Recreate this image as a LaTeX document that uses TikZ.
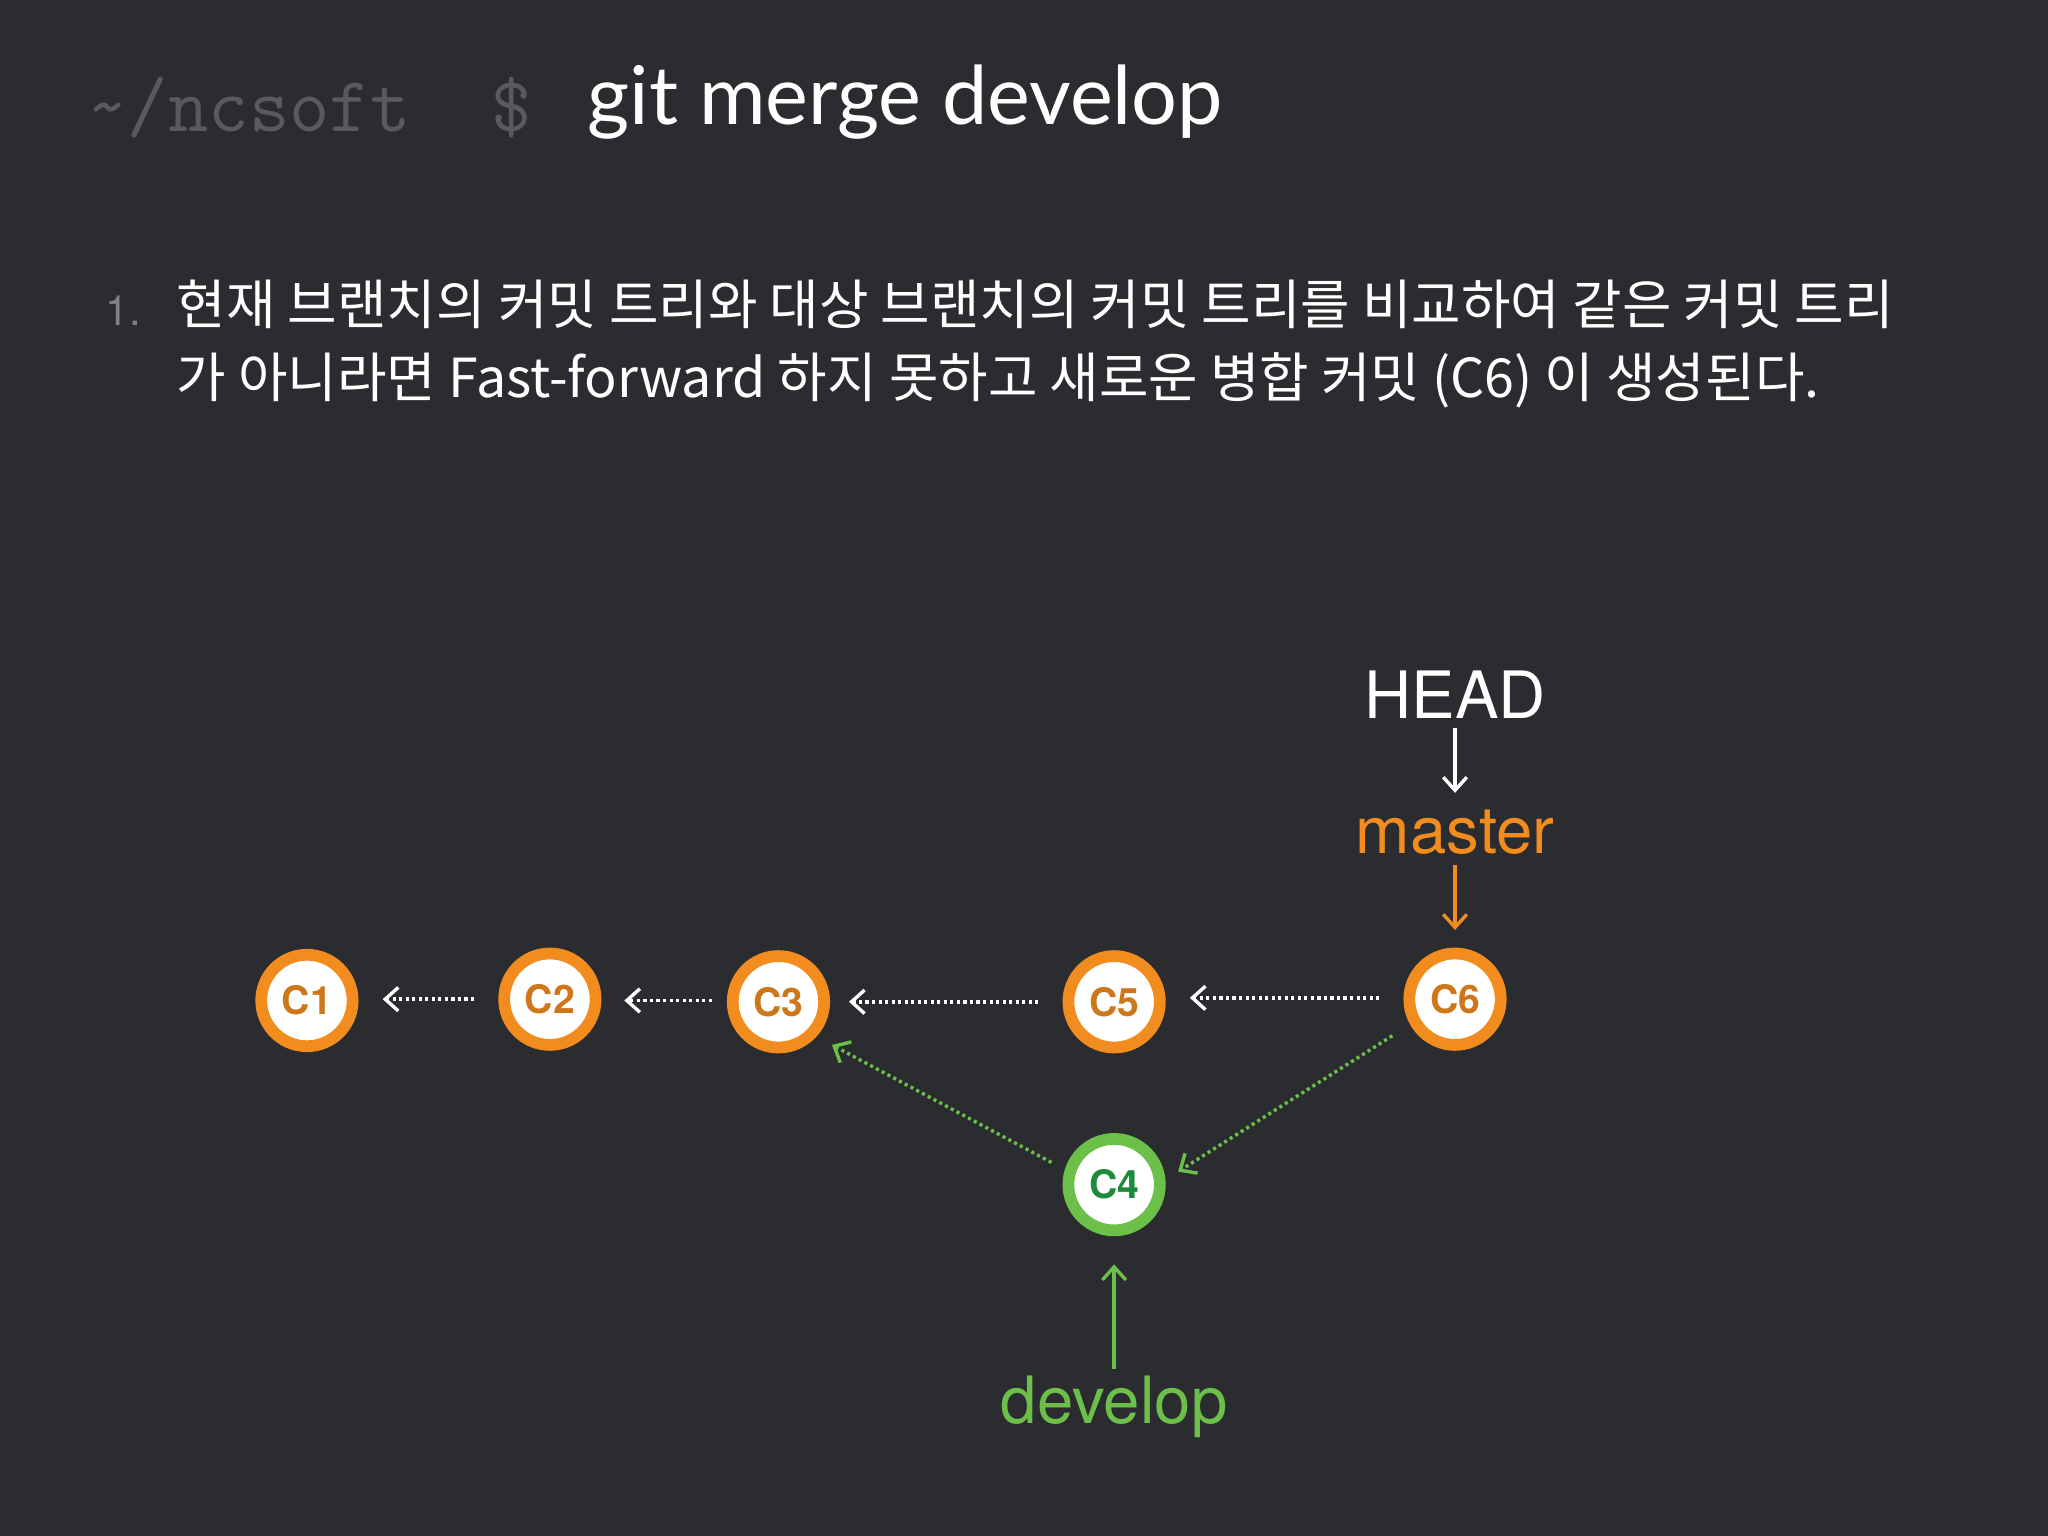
\documentclass[tikz,border=0pt]{standalone}
\usepackage{fontspec}
\setmainfont{Noto Sans CJK KR}
\newfontfamily\latinsans{TeX Gyre Heros}
\newfontfamily\titlesans{Lato}
\usetikzlibrary{arrows.meta}
\definecolor{bg}{HTML}{2A2C30}
\definecolor{orng}{HTML}{F28C1F}
\definecolor{grn}{HTML}{6CC04A}
\definecolor{dgrn}{HTML}{1F8A3A}
\begin{document}
\begin{tikzpicture}[x=0.5pt,y=-0.5pt,
  commit/.style={circle,draw=orng,line width=4.5pt,fill=white,minimum size=35pt,inner sep=0pt,text=orng!85!black,font=\latinsans\bfseries\fontsize{15}{15}\selectfont},
  gcommit/.style={commit,draw=grn,text=dgrn},
  dotarrow/.style={white,dash pattern=on 1.2pt off 1.3pt,line width=1.3pt,-{Straight Barb[length=5pt,width=9pt]}},
  lbl/.style={font=\latinsans\fontsize{25}{25}\selectfont}]
\fill[bg] (0,0) rectangle (1568,1176);
\useasboundingbox (0,0) rectangle (1568,1176);
\node[anchor=west,text=gray!55!bg,font=\ttfamily\fontsize{30}{30}\selectfont] (prompt) at (60,82) {\~{}/ncsoft\ \ \$};
\node[anchor=west,text=white,font=\titlesans\fontsize{31}{31}\selectfont] (cmd) at (443,78) {git merge develop};
\node[anchor=west,text=gray,font=\latinsans\fontsize{16}{16}\selectfont] (num) at (74,238) {1.};
\node[anchor=north west,text=white,font=\fontsize{20.6}{28}\selectfont,align=left,inner sep=0pt] (body) at (135,214)
{현재 브랜치의 커밋 트리와 대상 브랜치의 커밋 트리를 비교하여 같은 커밋 트리\\가 아니라면 Fast-forward 하지 못하고 새로운 병합 커밋 (C6) 이 생성된다.};
\node[commit] (c1) at (235,766) {C1};
\node[commit] (c2) at (421,765) {C2};
\node[commit] (c3) at (596,767) {C3};
\node[commit] (c5) at (853,767) {C5};
\node[commit] (c6) at (1114,765) {C6};
\node[gcommit] (c4) at (853,907) {C4};
\node[lbl,text=white] (head) at (1114,532) {HEAD};
\node[lbl,text=orng] (master) at (1114,637) {master};
\node[lbl,text=grn] (develop) at (853,1077) {develop};
\coordinate (a1) at (363,765); \coordinate (a1e) at (293,765);
\coordinate (a2) at (545,766); \coordinate (a2e) at (478,766);
\coordinate (a3) at (795,767); \coordinate (a3e) at (650,767);
\coordinate (a4) at (1056,764); \coordinate (a4e) at (911,764);
\draw[dotarrow] (a1) -- (a1e);
\draw[dotarrow] (a2) -- (a2e);
\draw[dotarrow] (a3) -- (a3e);
\draw[dotarrow] (a4) -- (a4e);
\coordinate (g1) at (805,890); \coordinate (g1e) at (637,800);
\coordinate (g2) at (1066,793); \coordinate (g2e) at (902,897);
\draw[dotarrow,grn] (g1) -- (g1e);
\draw[dotarrow,grn] (g2) -- (g2e);
\draw[white,line width=1.3pt,-{Straight Barb[length=5pt,width=9pt]}] (1114,557) -- (1114,607);
\draw[orng,line width=1.3pt,-{Straight Barb[length=5pt,width=9pt]}] (1114,662) -- (1114,712);
\draw[grn,line width=1.3pt,-{Straight Barb[length=5pt,width=9pt]}] (853,1048) -- (853,968);
\end{tikzpicture}
\end{document}
